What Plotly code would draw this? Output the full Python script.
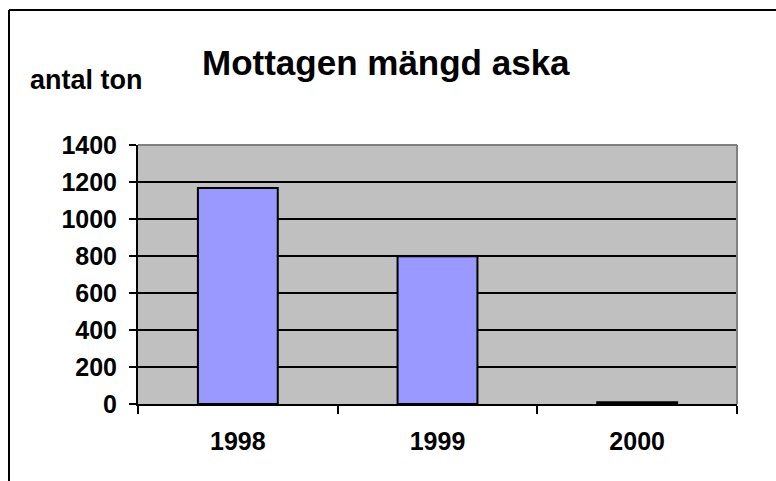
import plotly.graph_objects as go

years = ["1998", "1999", "2000"]
tons = [1168, 798, 10]
y_ticks = [0, 200, 400, 600, 800, 1000, 1200, 1400]
title_text = "Mottagen mängd aska"
y_label = "antal ton"

W, H = 776, 481
L, R, T, B = 138, 39, 145, 77
pw, ph = W - L - R, H - T - B

def px(x):
    return (x - L) / pw

def py(y):
    return (H - B - y) / ph

FONT = "Liberation Sans, Arial, sans-serif"

fig = go.Figure(go.Bar(
    x=years, y=tons,
    marker=dict(color="#9999FF", line=dict(color="black", width=2)),
    width=0.4,
))

fig.update_layout(
    width=W, height=H,
    margin=dict(l=L, r=R, t=T, b=B),
    paper_bgcolor="white",
    plot_bgcolor="#C0C0C0",
    showlegend=False,
    font=dict(family=FONT, color="black"),
    xaxis=dict(
        type="category", tickson="boundaries", ticks="outside", ticklen=8,
        tickwidth=2, tickcolor="black", showline=True, linecolor="black",
        linewidth=2, showgrid=False, ticklabelstandoff=14,
        tickfont=dict(size=25, family=FONT, weight="bold"),
    ),
    yaxis=dict(
        range=[0, 1400], tickvals=y_ticks, ticks="outside", ticklen=7,
        tickwidth=2, tickcolor="black", showline=True, linecolor="black",
        linewidth=2, showgrid=True, gridcolor="black", gridwidth=2,
        zeroline=False, ticklabelstandoff=7,
        tickfont=dict(size=25, family=FONT, weight="bold"),
    ),
    shapes=[
        dict(type="line", xref="paper", yref="paper", x0=0, x1=1, y0=1, y1=1,
             line=dict(color="#808080", width=2), layer="above"),
        dict(type="line", xref="paper", yref="paper", x0=1, x1=1, y0=0, y1=1,
             line=dict(color="#808080", width=2), layer="above"),
        dict(type="line", xref="paper", yref="paper", x0=px(9), x1=px(790),
             y0=py(10), y1=py(10), line=dict(color="black", width=2)),
        dict(type="line", xref="paper", yref="paper", x0=px(9), x1=px(9),
             y0=py(10), y1=py(495), line=dict(color="black", width=2)),
    ],
    annotations=[
        dict(text=title_text, xref="paper", yref="paper", x=px(386), y=py(63),
             showarrow=False, xanchor="center", yanchor="middle",
             font=dict(size=35, family=FONT, weight="bold")),
        dict(text=y_label, xref="paper", yref="paper", x=px(86), y=py(80),
             showarrow=False, xanchor="center", yanchor="middle",
             font=dict(size=27, family=FONT, weight="bold")),
    ],
)

fig.write_html("out.html", config={"displayModeBar": False},
               post_script="document.body.style.margin='0';")
